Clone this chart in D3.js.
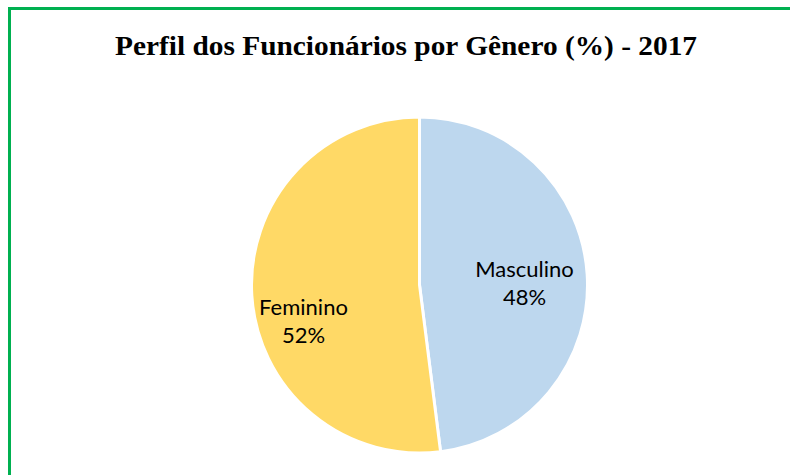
<!DOCTYPE html>
<html><head><meta charset="utf-8">
<script src="https://cdn.jsdelivr.net/npm/d3@7"></script>
<style>body{margin:0;background:#fff}svg{display:block}</style>
</head><body>
<svg id="c" width="790" height="475"></svg>
<script>
const categories = ["Masculino", "Feminino"];
const values = [48, 52];
const colors = ["#BDD7EE", "#FFD966"];
const title = "Perfil dos Funcionários por Gênero (%) - 2017";

const svg = d3.select("#c");
svg.append("rect").attr("x", 9.5).attr("y", 8.5).attr("width", 900).attr("height", 600)
  .attr("fill", "#fff").attr("stroke", "#00B050").attr("stroke-width", 3);

svg.append("text").attr("x", 406).attr("y", 55).attr("text-anchor", "middle")
  .attr("font-family", "Liberation Serif, Times New Roman, serif").attr("font-weight", "bold")
  .attr("font-size", 28).attr("textLength", 582).attr("lengthAdjust", "spacingAndGlyphs").text(title);

const cx = 419.5, cy = 285, r = 168;
const data = categories.map((c, i) => ({cat: c, value: values[i], color: colors[i]}));
const pie = d3.pie().sort(null).value(d => d.value);
const arc = d3.arc().innerRadius(0).outerRadius(r);
const g = svg.append("g").attr("transform", `translate(${cx},${cy})`);
const arcs = pie(data);
g.selectAll("path").data(arcs).join("path").attr("d", arc)
  .attr("fill", d => d.data.color).attr("stroke", "#fff").attr("stroke-width", 3);

const labelPos = [[105, -8], [-116, 30]];
const lab = g.selectAll("text.l").data(arcs).join("text").attr("class", "l")
  .attr("text-anchor", "middle").attr("font-family", "Lato, Open Sans, sans-serif")
  .attr("font-size", 22).attr("fill", "#000");
lab.append("tspan").attr("x", (d, i) => labelPos[i][0]).attr("y", (d, i) => labelPos[i][1]).text(d => d.data.cat);
lab.append("tspan").attr("x", (d, i) => labelPos[i][0]).attr("y", (d, i) => labelPos[i][1] + 28).text(d => d.data.value + "%");
</script>
</body></html>
